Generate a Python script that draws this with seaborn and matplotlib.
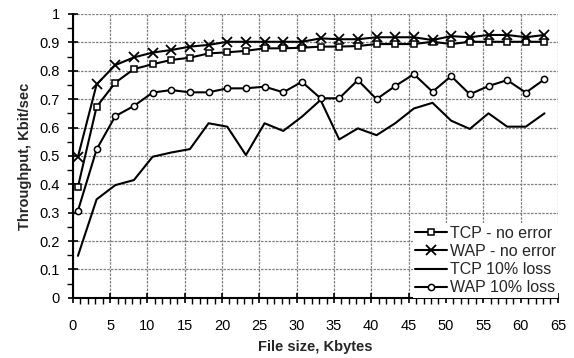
import matplotlib
matplotlib.use("Agg")
import matplotlib.pyplot as plt
import seaborn as sns
import pandas as pd
import numpy as np
from matplotlib.ticker import MultipleLocator, FormatStrFormatter

# data
file_size = [0.7, 3.2, 5.7, 8.2, 10.7, 13.2, 15.7, 18.2, 20.7, 23.2, 25.7, 28.2, 30.7,
             33.2, 35.7, 38.2, 40.7, 43.2, 45.7, 48.2, 50.7, 53.2, 55.7, 58.2, 60.7, 63.2]
tcp_no_error = [0.391, 0.673, 0.758, 0.806, 0.823, 0.838, 0.846, 0.861, 0.865, 0.870, 0.879, 0.879, 0.881,
                0.885, 0.885, 0.887, 0.894, 0.894, 0.894, 0.902, 0.894, 0.902, 0.902, 0.902, 0.902, 0.902]
wap_no_error = [0.497, 0.752, 0.820, 0.847, 0.864, 0.873, 0.885, 0.891, 0.902, 0.902, 0.902, 0.902, 0.902,
                0.914, 0.911, 0.911, 0.918, 0.918, 0.918, 0.908, 0.922, 0.918, 0.926, 0.926, 0.918, 0.926]
tcp_loss = [0.148, 0.347, 0.397, 0.415, 0.497, 0.512, 0.524, 0.615, 0.603, 0.503, 0.615, 0.588, 0.638,
            0.697, 0.558, 0.597, 0.573, 0.615, 0.667, 0.687, 0.624, 0.595, 0.650, 0.603, 0.603, 0.650]
wap_loss = [0.307, 0.523, 0.640, 0.676, 0.723, 0.732, 0.724, 0.724, 0.738, 0.738, 0.744, 0.724, 0.761,
            0.703, 0.703, 0.767, 0.700, 0.746, 0.788, 0.726, 0.781, 0.717, 0.746, 0.767, 0.723, 0.770]

df = pd.DataFrame({
    "size": file_size,
    "TCP - no error": tcp_no_error,
    "WAP - no error": wap_no_error,
    "TCP 10% loss": tcp_loss,
    "WAP 10% loss": wap_loss,
})

sns.set_style("white")
plt.rcParams['font.family'] = ['Liberation Sans', 'DejaVu Sans']

fig = plt.figure(figsize=(5.74, 3.58), dpi=100)
ax = fig.add_axes([0.1267, 0.168, 0.8453, 0.793])

styles = {
    "TCP - no error": dict(marker='s', ms=4.5, mfc='white', mew=1.1),
    "WAP - no error": dict(marker='x', ms=7, mew=1.3),
    "TCP 10% loss": dict(marker=None),
    "WAP 10% loss": dict(marker='o', ms=4.5, mfc='white', mew=1.1),
}
for name, kw in styles.items():
    sns.lineplot(data=df, x="size", y=name, ax=ax, color='black', lw=1.5,
                 mec='black', label=name, clip_on=False, zorder=3, **kw)

ax.set_xlim(0, 65)
ax.set_ylim(0, 1)
ax.xaxis.set_major_locator(MultipleLocator(5))
ax.xaxis.set_minor_locator(MultipleLocator(1))
ax.yaxis.set_major_locator(MultipleLocator(0.1))
ax.yaxis.set_minor_locator(MultipleLocator(0.05))
ax.yaxis.set_major_formatter(FormatStrFormatter('%g'))

ax.grid(True, which='major', color='#808080', linestyle=(0, (2, 1)), linewidth=0.9)
ax.set_axisbelow(True)
for s in ['top', 'right']:
    ax.spines[s].set_visible(False)
for s in ['left', 'bottom']:
    ax.spines[s].set_color('black')
    ax.spines[s].set_linewidth(1.5)

ax.tick_params(axis='both', which='major', direction='inout', length=7, width=1.2,
               colors='black', labelsize=10.5)
ax.tick_params(axis='x', which='major', pad=12)
ax.tick_params(axis='y', which='major', pad=6)
ax.tick_params(axis='both', which='minor', direction='out', length=4, width=1.0, colors='black')
ax.tick_params(bottom=True, left=True, which='both')

ax.set_xlabel("File size, Kbytes", fontsize=10.5, fontweight='bold', labelpad=5)
ax.set_ylabel("Throughput, Kbit/sec", fontsize=10.5, fontweight='bold', labelpad=5)

leg = ax.legend(loc='lower right', fontsize=11.5, frameon=True, fancybox=False,
                borderaxespad=0.0, handlelength=2.0, handletextpad=0.15,
                labelspacing=0.2, borderpad=0.15)
leg.get_frame().set_edgecolor('none')
leg.get_frame().set_facecolor('white')
leg.get_frame().set_alpha(1)

fig.savefig("out.png", dpi=100)
